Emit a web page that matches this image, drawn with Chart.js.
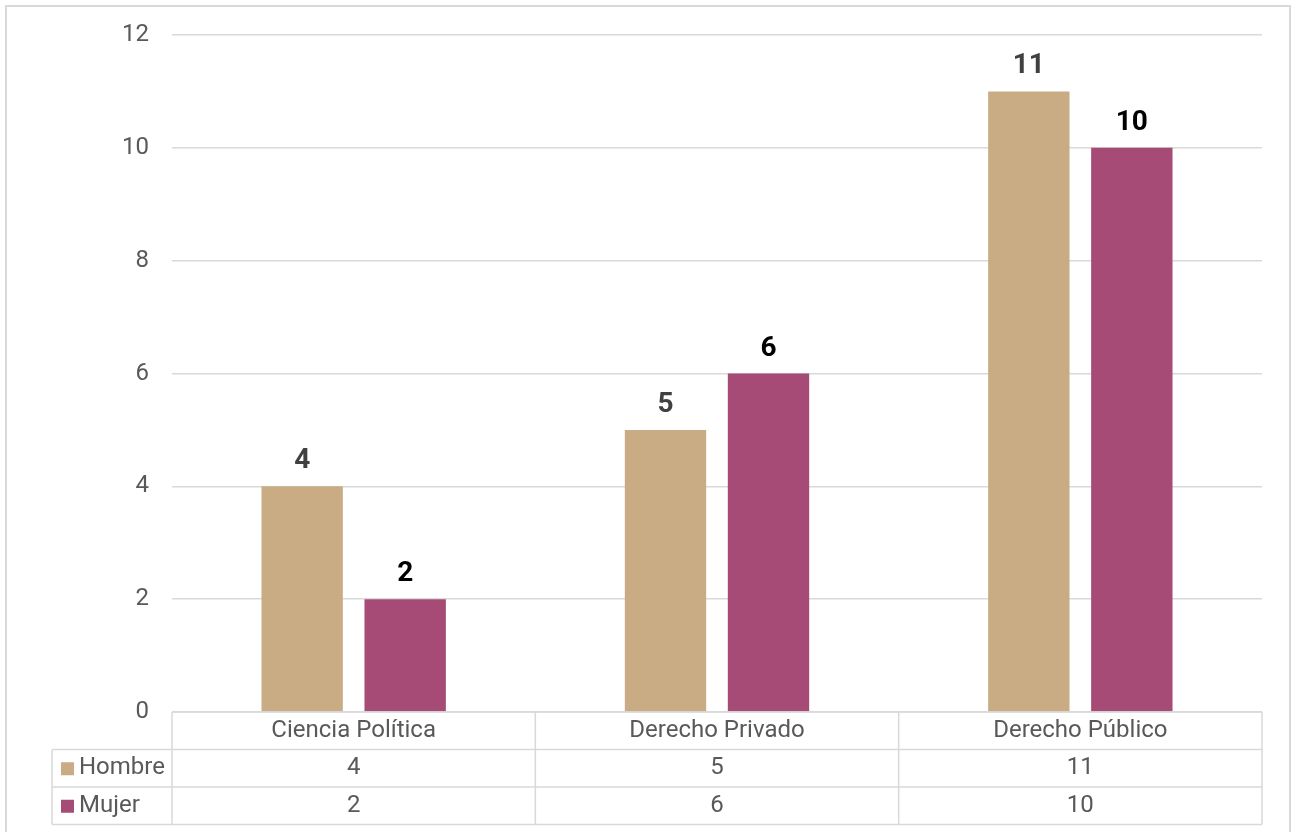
<!DOCTYPE html>
<html>
<head>
<meta charset="utf-8">
<script src="https://cdn.jsdelivr.net/npm/chart.js@4"></script>
<style>
  body { margin: 0; background: #fff; }
  #wrap { width: 1292px; height: 832px; position: relative; }
</style>
</head>
<body>
<div id="wrap"><canvas id="myChart" width="1292" height="832"></canvas></div>
<script>
/*** Data ***/
const categories = ["Ciencia Política", "Derecho Privado", "Derecho Público"];
const seriesNames = ["Hombre", "Mujer"];
const hombreValues = [4, 5, 11];
const mujerValues = [2, 6, 10];
const yTicks = [0, 2, 4, 6, 8, 10, 12];

const colors = ["#C9AC84", "#A64B75"];
const labelColors = ["#404040", "#000000"];
const gridColor = "#D9D9D9";
const textColor = "#595959";

// table rows under the plot (category row + one per series)
const rowHeight = 37.5;
const tableLeft = 52;

const dataTablePlugin = {
    id: "dataTable",
    afterDraw(chart) {
        const ctx = chart.ctx;
        const area = chart.chartArea;
        const x = chart.scales.x;
        const allValues = [hombreValues, mujerValues];
        ctx.save();

        // outer frame (bottom edge is cut off by the picture)
        ctx.strokeStyle = gridColor;
        ctx.lineWidth = 2;
        ctx.beginPath();
        ctx.moveTo(6, 840); ctx.lineTo(6, 6); ctx.lineTo(1290, 6); ctx.lineTo(1290, 840);
        ctx.stroke();

        // column edges from the category scale
        const edges = [];
        const half = (x.getPixelForValue(1) - x.getPixelForValue(0)) / 2;
        for (let i = 0; i < categories.length; i++) {
            const c = x.getPixelForValue(i);
            if (i === 0) edges.push(c - half);
            edges.push(c + half);
        }
        const top = area.bottom;
        const rows = [top, top + rowHeight, top + rowHeight * 2, top + rowHeight * 3];

        ctx.lineWidth = 1.5;
        ctx.beginPath();
        // horizontal lines
        ctx.moveTo(edges[0], rows[0]); ctx.lineTo(edges[edges.length - 1], rows[0]);
        for (let r = 1; r < rows.length; r++) {
            ctx.moveTo(tableLeft, rows[r]); ctx.lineTo(edges[edges.length - 1], rows[r]);
        }
        // vertical lines
        edges.forEach((e) => { ctx.moveTo(e, rows[0]); ctx.lineTo(e, rows[3]); });
        ctx.moveTo(tableLeft, rows[1]); ctx.lineTo(tableLeft, rows[3]);
        ctx.stroke();

        ctx.font = "24px Roboto";
        ctx.fillStyle = textColor;
        ctx.textAlign = "center";
        ctx.textBaseline = "middle";
        categories.forEach((cat, i) => {
            ctx.fillText(cat, x.getPixelForValue(i), (rows[0] + rows[1]) / 2);
            allValues.forEach((vals, s) => {
                ctx.fillText(String(vals[i]), x.getPixelForValue(i), (rows[s + 1] + rows[s + 2]) / 2);
            });
        });

        // legend keys in the row headers
        ctx.textAlign = "left";
        seriesNames.forEach((name, s) => {
            const cy = (rows[s + 1] + rows[s + 2]) / 2;
            ctx.fillStyle = colors[s];
            ctx.fillRect(61, cy - 6, 13, 13);
            ctx.fillStyle = textColor;
            ctx.fillText(name, 79, cy);
        });

        // value labels above bars
        ctx.font = "bold 28px Roboto";
        ctx.textAlign = "center";
        ctx.textBaseline = "alphabetic";
        chart.data.datasets.forEach((ds, s) => {
            chart.getDatasetMeta(s).data.forEach((bar, i) => {
                ctx.fillStyle = labelColors[s];
                ctx.fillText(String(ds.data[i]), bar.x, bar.y - 18);
            });
        });
        ctx.restore();
    }
};

function renderChart() {
    const chartData = {
        labels: categories,
        datasets: [
            { label: seriesNames[0], data: hombreValues, backgroundColor: colors[0] },
            { label: seriesNames[1], data: mujerValues, backgroundColor: colors[1] }
        ]
    };
    const options = {
        responsive: false,
        animation: false,
        categoryPercentage: 0.567,
        barPercentage: 0.79,
        layout: { padding: { top: 35, right: 30, bottom: 120, left: 0 } },
        plugins: { legend: { display: false }, tooltip: { enabled: false } },
        scales: {
            x: {
                display: false
            },
            y: {
                min: 0,
                max: 12,
                afterBuildTicks: (scale) => { scale.ticks = yTicks.map((v) => ({ value: v })); },
                afterFit: (scale) => {
                    scale.width = 172;
                    scale.paddingTop = 0;
                    scale.paddingBottom = 0;
                },
                grid: { color: gridColor, lineWidth: 1.5, drawTicks: false },
                border: { display: false },
                ticks: { color: textColor, font: { family: "Roboto", size: 24 }, padding: 23 }
            }
        }
    };
    const ctx = document.getElementById("myChart").getContext("2d");
    window.myChart = new Chart(ctx, {
        type: "bar",
        data: chartData,
        options: options,
        plugins: [dataTablePlugin]
    });
}
renderChart();
</script>
</body>
</html>
